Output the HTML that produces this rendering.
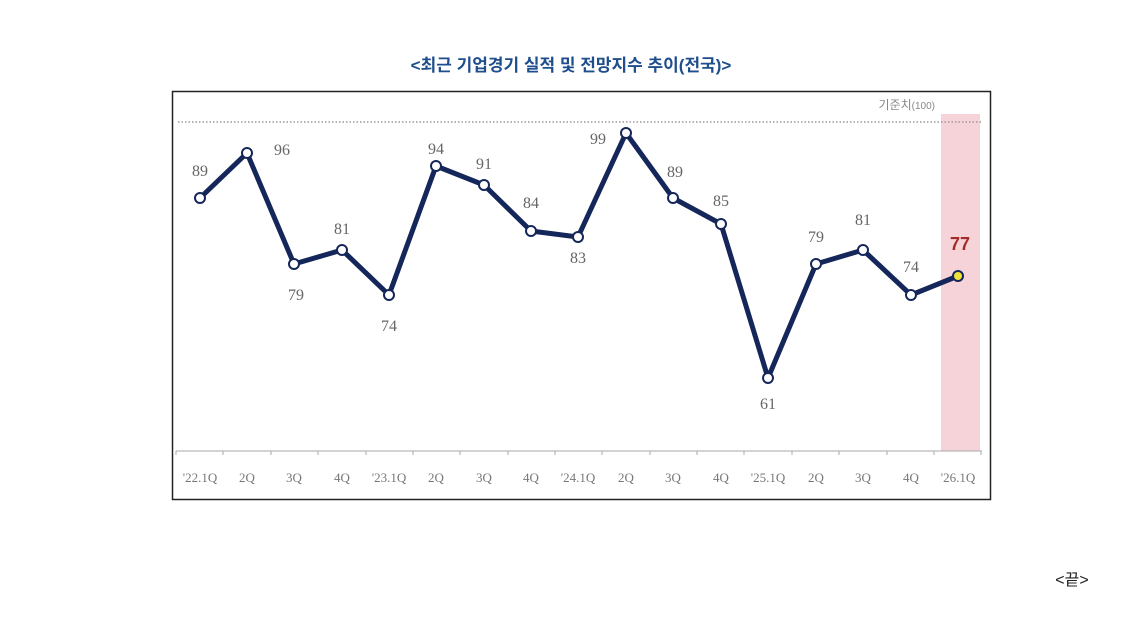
<!DOCTYPE html>
<html><head><meta charset="utf-8"><style>
body{margin:0;width:1142px;height:638px;background:#fff;overflow:hidden}
</style></head><body>
<svg width="1142" height="638" xmlns="http://www.w3.org/2000/svg" font-family="'Liberation Serif','Noto Serif CJK SC',serif">
<text x="571" y="71" text-anchor="middle" font-family="'Liberation Sans','Noto Sans CJK KR',sans-serif" font-size="17" font-weight="bold" fill="#1f4e8c">&lt;최근 기업경기 실적 및 전망지수 추이(전국)&gt;</text>
<rect x="172.5" y="91.5" width="818" height="408" fill="#fff" stroke="#222" stroke-width="1.5"/>
<rect x="941" y="114" width="39" height="337" fill="#f6d3d8"/>
<line x1="178" y1="122" x2="982" y2="122" stroke="#999" stroke-width="1.5" stroke-dasharray="1.5,2"/>
<text x="935" y="109" text-anchor="end" font-family="'Liberation Sans','Noto Sans CJK KR',sans-serif" font-size="12" fill="#888">기준치<tspan font-size="10">(100)</tspan></text>
<line x1="176" y1="451" x2="982" y2="451" stroke="#aaa" stroke-width="1"/>
<g stroke="#aaa" stroke-width="1">
<line x1="176" y1="451" x2="176" y2="455"/><line x1="223" y1="451" x2="223" y2="455"/><line x1="271" y1="451" x2="271" y2="455"/><line x1="318" y1="451" x2="318" y2="455"/><line x1="366" y1="451" x2="366" y2="455"/><line x1="413" y1="451" x2="413" y2="455"/><line x1="460" y1="451" x2="460" y2="455"/><line x1="508" y1="451" x2="508" y2="455"/><line x1="555" y1="451" x2="555" y2="455"/><line x1="602" y1="451" x2="602" y2="455"/><line x1="650" y1="451" x2="650" y2="455"/><line x1="697" y1="451" x2="697" y2="455"/><line x1="744" y1="451" x2="744" y2="455"/><line x1="792" y1="451" x2="792" y2="455"/><line x1="839" y1="451" x2="839" y2="455"/><line x1="887" y1="451" x2="887" y2="455"/><line x1="934" y1="451" x2="934" y2="455"/><line x1="981" y1="451" x2="981" y2="455"/>
</g>
<g font-size="13" fill="#777" text-anchor="middle">
<text x="200" y="482">'22.1Q</text><text x="247" y="482">2Q</text><text x="294" y="482">3Q</text><text x="342" y="482">4Q</text><text x="389" y="482">'23.1Q</text><text x="436" y="482">2Q</text><text x="484" y="482">3Q</text><text x="531" y="482">4Q</text><text x="578" y="482">'24.1Q</text><text x="626" y="482">2Q</text><text x="673" y="482">3Q</text><text x="721" y="482">4Q</text><text x="768" y="482">'25.1Q</text><text x="816" y="482">2Q</text><text x="863" y="482">3Q</text><text x="911" y="482">4Q</text><text x="958" y="482">'26.1Q</text>
</g>
<polyline fill="none" stroke="#15275a" stroke-width="5" stroke-linejoin="round" points="200,198 247,153 294,264 342,250 389,295 436,166 484,185 531,231 578,237 626,133 673,198 721,224 768,378 816,264 863,250 911,295 958,276"/>
<g fill="#fff" stroke="#15275a" stroke-width="2">
<circle cx="200" cy="198" r="5"/><circle cx="247" cy="153" r="5"/><circle cx="294" cy="264" r="5"/><circle cx="342" cy="250" r="5"/><circle cx="389" cy="295" r="5"/><circle cx="436" cy="166" r="5"/><circle cx="484" cy="185" r="5"/><circle cx="531" cy="231" r="5"/><circle cx="578" cy="237" r="5"/><circle cx="626" cy="133" r="5"/><circle cx="673" cy="198" r="5"/><circle cx="721" cy="224" r="5"/><circle cx="768" cy="378" r="5"/><circle cx="816" cy="264" r="5"/><circle cx="863" cy="250" r="5"/><circle cx="911" cy="295" r="5"/>
<circle cx="958" cy="276" r="5" fill="#f2e33a"/>
</g>
<g font-size="16" fill="#666" text-anchor="middle">
<text x="200" y="176">89</text><text x="282" y="155">96</text><text x="296" y="300">79</text><text x="342" y="234">81</text><text x="389" y="331">74</text><text x="436" y="154">94</text><text x="484" y="169">91</text><text x="531" y="208">84</text><text x="578" y="263">83</text><text x="598" y="144">99</text><text x="675" y="177">89</text><text x="721" y="206">85</text><text x="768" y="409">61</text><text x="816" y="242">79</text><text x="863" y="225">81</text><text x="911" y="272">74</text>
</g>
<text x="960" y="250" text-anchor="middle" font-family="'Liberation Sans',sans-serif" font-size="18" font-weight="bold" fill="#a52a2a">77</text>
<text x="1072" y="585" text-anchor="middle" font-family="'Liberation Sans','Noto Sans CJK KR',sans-serif" font-size="16" fill="#222">&lt;끝&gt;</text>
</svg>
</body></html>
